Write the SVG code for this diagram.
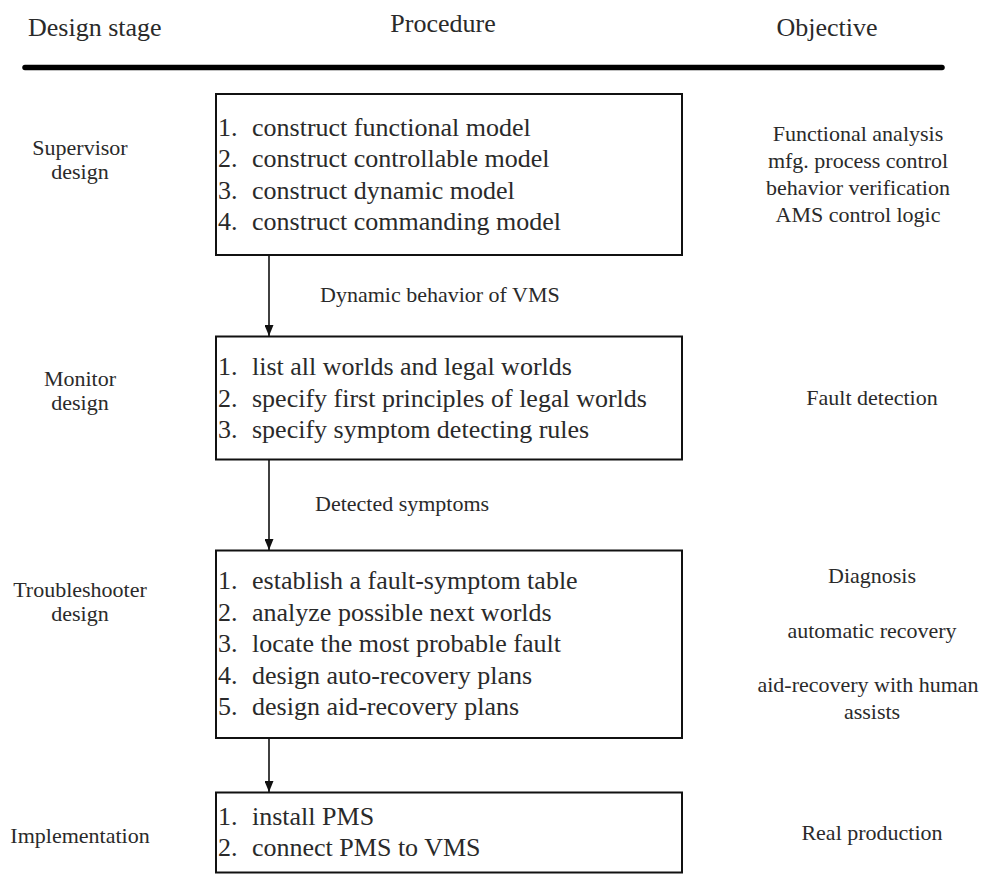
<svg xmlns="http://www.w3.org/2000/svg" width="985" height="874" viewBox="0 0 985 874" font-family="'Liberation Serif', 'Times New Roman', serif">
<defs>
<marker id="ah" markerWidth="11" markerHeight="9" refX="11" refY="4.5" orient="auto" markerUnits="userSpaceOnUse" viewBox="0 0 11 9">
<path d="M0,0 L11,4.5 L0,9 Z" fill="#111"/>
</marker>
</defs>
<style>
text{font-family:"Liberation Serif","Times New Roman",serif;fill:#2a2a2a}
tspan{font-family:"Liberation Serif","Times New Roman",serif}
.hd{font-size:26px}
.bx{font-size:26px}
.lb{font-size:22px}
.st{font-size:22px;text-anchor:middle}
.ob{font-size:22px;text-anchor:middle}
.box{fill:#fff;stroke:#111;stroke-width:2}
.con{stroke:#111;stroke-width:1.6;fill:none}
</style>
<rect width="985" height="874" fill="#fff"/>
<g id="header">
<text class="hd" x="28" y="36">Design stage</text>
<text class="hd" x="443" y="32" text-anchor="middle">Procedure</text>
<text class="hd" x="827" y="36" text-anchor="middle">Objective</text>
<line x1="25" y1="67.5" x2="942" y2="67.5" stroke="#000" stroke-width="5.5" stroke-linecap="round"/>
</g>
<g id="stages">
<text class="st" x="80" y="155">Supervisor</text>
<text class="st" x="80" y="179">design</text>
<text class="st" x="80" y="386">Monitor</text>
<text class="st" x="80" y="410">design</text>
<text class="st" x="80" y="597">Troubleshooter</text>
<text class="st" x="80" y="621">design</text>
<text class="st" x="80" y="843">Implementation</text>
</g>
<g id="box-supervisor">
<rect class="box" x="216" y="94" width="466" height="161"/>
<text class="bx" x="218" y="135.5">1.<tspan x="252">construct functional model</tspan></text>
<text class="bx" x="218" y="167">2.<tspan x="252">construct controllable model</tspan></text>
<text class="bx" x="218" y="198.5">3.<tspan x="252">construct dynamic model</tspan></text>
<text class="bx" x="218" y="230">4.<tspan x="252">construct commanding model</tspan></text>
</g>
<g id="box-monitor">
<rect class="box" x="216" y="336.5" width="466" height="123"/>
<text class="bx" x="218" y="375">1.<tspan x="252">list all worlds and legal worlds</tspan></text>
<text class="bx" x="218" y="406.5">2.<tspan x="252">specify first principles of legal worlds</tspan></text>
<text class="bx" x="218" y="438">3.<tspan x="252">specify symptom detecting rules</tspan></text>
</g>
<g id="box-troubleshooter">
<rect class="box" x="216" y="550.5" width="466" height="187.5"/>
<text class="bx" x="218" y="589">1.<tspan x="252">establish a fault-symptom table</tspan></text>
<text class="bx" x="218" y="620.5">2.<tspan x="252">analyze possible next worlds</tspan></text>
<text class="bx" x="218" y="652">3.<tspan x="252">locate the most probable fault</tspan></text>
<text class="bx" x="218" y="683.5">4.<tspan x="252">design auto-recovery plans</tspan></text>
<text class="bx" x="218" y="715">5.<tspan x="252">design aid-recovery plans</tspan></text>
</g>
<g id="box-implementation">
<rect class="box" x="216" y="792.5" width="466" height="80"/>
<text class="bx" x="218" y="825">1.<tspan x="252">install PMS</tspan></text>
<text class="bx" x="218" y="856">2.<tspan x="252">connect PMS to VMS</tspan></text>
</g>
<g id="objectives">
<text class="ob" x="858" y="141">Functional analysis</text>
<text class="ob" x="858" y="168">mfg. process control</text>
<text class="ob" x="858" y="195">behavior verification</text>
<text class="ob" x="858" y="222">AMS control logic</text>
<text class="ob" x="872" y="405">Fault detection</text>
<text class="ob" x="872" y="583">Diagnosis</text>
<text class="ob" x="872" y="638">automatic recovery</text>
<text class="ob" x="868" y="692">aid-recovery with human</text>
<text class="ob" x="872" y="719">assists</text>
<text class="ob" x="872" y="840">Real production</text>
</g>
<g id="connectors">
<line class="con" x1="269" y1="255" x2="269" y2="336" marker-end="url(#ah)"/>
<line class="con" x1="269" y1="459.5" x2="269" y2="550" marker-end="url(#ah)"/>
<line class="con" x1="269" y1="738" x2="269" y2="792" marker-end="url(#ah)"/>
<text class="lb" x="320" y="302">Dynamic behavior of VMS</text>
<text class="lb" x="315" y="511">Detected symptoms</text>
</g>
</svg>
